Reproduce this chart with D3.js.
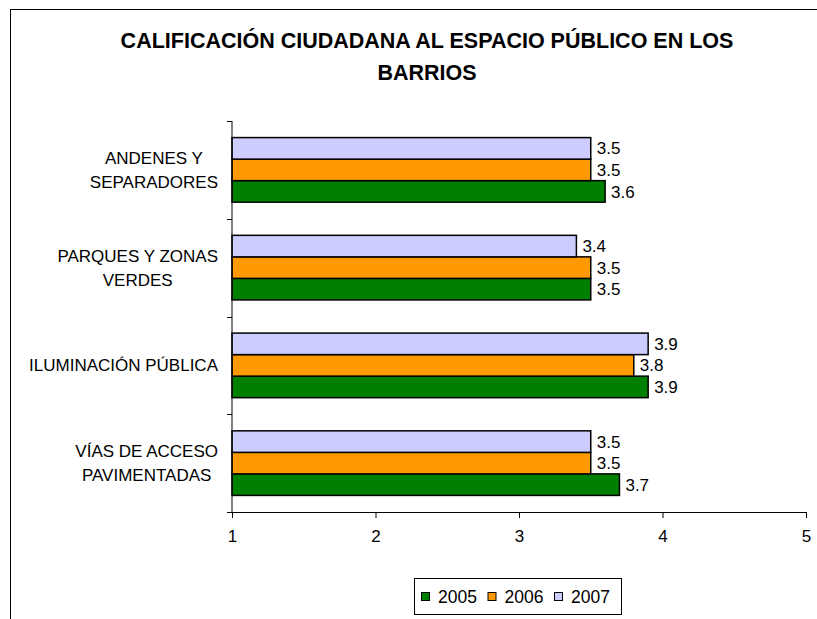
<!DOCTYPE html>
<html>
<head>
<meta charset="utf-8">
<script src="https://cdn.jsdelivr.net/npm/d3@7"></script>
<style>
  body { margin: 0; background: #fff; }
  svg { display: block; font-family: "Liberation Sans", Arial, sans-serif; }
</style>
</head>
<body>
<svg id="chart" width="817" height="619"></svg>
<script>
// categories, top to bottom (each entry is the lines of its label)
const categories = ["ANDENES Y SEPARADORES", "PARQUES Y ZONAS VERDES", "ILUMINACIÓN PÚBLICA", "VÍAS DE ACCESO PAVIMENTADAS"];
const categoryLines = [["ANDENES Y", "SEPARADORES"], ["PARQUES Y ZONAS", "VERDES"], ["ILUMINACIÓN PÚBLICA"], ["VÍAS DE ACCESO", "PAVIMENTADAS"]];
const years = ["2005", "2006", "2007"];
const values2005 = [3.6, 3.5, 3.9, 3.7];
const values2006 = [3.5, 3.5, 3.8, 3.5];
const values2007 = [3.5, 3.4, 3.9, 3.5];
const xTicks = [1, 2, 3, 4, 5];
const colors = { "2005": "#008000", "2006": "#FF9900", "2007": "#CCCCFF" };

const seriesValues = { "2005": values2005, "2006": values2006, "2007": values2007 };
const rows = categories.map((c, i) => ({
  cat: c,
  lines: categoryLines[i],
  bars: years.map(y => ({ year: y, value: seriesValues[y][i] }))
}));

const svg = d3.select("#chart");
const margin = { top: 121, left: 232, right: 11, bottom: 107 };
const width = 817, height = 619;
const fs = 17;

// chart frame (only top and left edges show in the picture)
svg.append("rect")
  .attr("x", 10.5).attr("y", 9.5)
  .attr("width", 900).attr("height", 700)
  .attr("fill", "none").attr("stroke", "#000").attr("stroke-width", 1);

// title
const title = svg.append("text")
  .attr("text-anchor", "middle")
  .attr("font-weight", "bold")
  .attr("font-size", 21.5)
  .attr("fill", "#000");
title.append("tspan").attr("x", 427).attr("y", 48).text("CALIFICACIÓN CIUDADANA AL ESPACIO PÚBLICO EN LOS");
title.append("tspan").attr("x", 427).attr("y", 80).text("BARRIOS");

const x = d3.scaleLinear()
  .domain([1, 5])
  .range([margin.left, width - margin.right]);

const y = d3.scaleBand()
  .domain(categories)
  .range([margin.top, height - margin.bottom])
  .padding(0);

const yInner = d3.scaleBand()
  .domain(["2007", "2006", "2005"])
  .range([0, y.bandwidth()])
  .paddingInner(0)
  .paddingOuter(0.77);

// bars
const groups = svg.append("g").attr("class", "plot-area")
  .selectAll("g")
  .data(rows)
  .join("g")
  .attr("transform", d => `translate(0,${y(d.cat)})`);

groups.selectAll("rect")
  .data(d => d.bars)
  .join("rect")
  .attr("x", x(1))
  .attr("y", d => yInner(d.year))
  .attr("width", d => x(d.value) - x(1))
  .attr("height", yInner.bandwidth())
  .attr("fill", d => colors[d.year])
  .attr("stroke", "#000")
  .attr("stroke-width", 1.5);

groups.selectAll("text.val")
  .data(d => d.bars)
  .join("text")
  .attr("class", "val")
  .attr("x", d => x(d.value) + 6)
  .attr("y", d => yInner(d.year) + yInner.bandwidth() / 2)
  .attr("dy", "0.36em")
  .attr("font-size", fs)
  .attr("fill", "#000")
  .text(d => d3.format(".1f")(d.value));

// x axis
const xAxis = svg.append("g")
  .attr("class", "x-axis")
  .attr("transform", `translate(0,${height - margin.bottom})`)
  .call(d3.axisBottom(x).tickValues(xTicks).tickFormat(d3.format("d")).tickSize(6).tickSizeOuter(0).tickPadding(12))
  .attr("font-family", null)
  .attr("font-size", null);
xAxis.select(".domain").attr("stroke", "#000");
xAxis.selectAll("text").attr("font-size", fs).attr("fill", "#000");

// y axis: ticks at band boundaries
const yAxis = svg.append("g").attr("class", "y-axis");
yAxis.append("line")
  .attr("x1", x(1)).attr("x2", x(1))
  .attr("y1", margin.top).attr("y2", height - margin.bottom)
  .attr("stroke", "#000");
const bounds = categories.map(c => y(c)).concat([y.range()[1]]);
yAxis.selectAll("line.tick")
  .data(bounds)
  .join("line")
  .attr("class", "tick")
  .attr("x1", x(1) - 5).attr("x2", x(1))
  .attr("y1", d => Math.round(d) + 0.5).attr("y2", d => Math.round(d) + 0.5)
  .attr("stroke", "#000");

// category labels: block right-aligned, lines centred inside it
const labelRight = 218;
rows.forEach(r => {
  const g = svg.append("g");
  const lh = 24;
  const cy = y(r.cat) + y.bandwidth() / 2;
  const texts = r.lines.map((ln, i) => g.append("text")
    .attr("font-size", fs)
    .attr("fill", "#000")
    .attr("y", cy + (i - (r.lines.length - 1) / 2) * lh)
    .attr("dy", "0.36em")
    .text(ln));
  const blockW = d3.max(texts.map(t => t.node().getComputedTextLength()));
  texts.forEach(t => t.attr("text-anchor", "middle").attr("x", labelRight - blockW / 2));
});

// legend
const legend = svg.append("g").attr("class", "legend");
legend.append("rect")
  .attr("x", 414.5).attr("y", 578.5)
  .attr("width", 207).attr("height", 36)
  .attr("fill", "#fff").attr("stroke", "#000");
const itemX = d3.scalePoint().domain(years).range([421, 554]);
const items = legend.selectAll("g.item")
  .data(years)
  .join("g")
  .attr("class", "item")
  .attr("transform", d => `translate(${itemX(d)},596.5)`);
items.append("rect")
  .attr("x", 0.5).attr("y", -4)
  .attr("width", 8).attr("height", 8)
  .attr("fill", d => colors[d])
  .attr("stroke", "#000");
items.append("text")
  .attr("x", 17)
  .attr("dy", "0.36em")
  .attr("font-size", 17.5)
  .attr("fill", "#000")
  .text(d => d);
</script>
</body>
</html>
